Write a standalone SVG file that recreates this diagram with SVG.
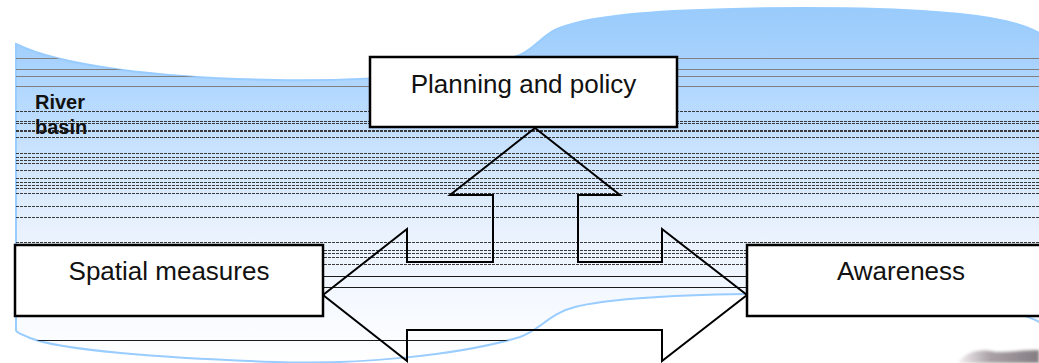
<svg xmlns="http://www.w3.org/2000/svg" width="1039" height="363" viewBox="0 0 1039 363">
  <style>
    .box { fill: #ffffff; stroke: #000000; stroke-width: 2.5; }
    .lbl { font-family: "Liberation Sans", Arial, sans-serif; font-size: 26px; fill: #111111; text-anchor: middle; }
    .basin { font-family: "Liberation Sans", Arial, sans-serif; font-size: 20px; font-weight: bold; fill: #111111; }
    .gl { stroke: #808080; stroke-width: 1; }
    .dl { stroke: #3a3a3a; stroke-width: 1; stroke-dasharray: 3 1; }
    .sl { stroke: #1a1a1a; stroke-width: 1; }
    .arrow { fill: none; stroke: #000000; stroke-width: 2; stroke-linejoin: miter; }
  </style>
  <defs>
    <linearGradient id="basinGrad" x1="0" y1="8" x2="0" y2="362" gradientUnits="userSpaceOnUse">
      <stop offset="0" stop-color="#99cbfb"/>
      <stop offset="0.15" stop-color="#a8d2fd"/>
      <stop offset="0.3" stop-color="#bbdcff"/>
      <stop offset="0.47" stop-color="#d4e7fc"/>
      <stop offset="0.62" stop-color="#e8f1fd"/>
      <stop offset="0.78" stop-color="#f2f7ff"/>
      <stop offset="1" stop-color="#ffffff"/>
    </linearGradient>
    <path id="basinShape" d="M16,44 C60,66 160,78 275,80 C390,82 480,70 520,55 C535,48 540,38 555,30 C580,18 640,12 700,10 C800,6 900,8 960,14 C1000,18 1025,25 1039,33 L1045,40 L1045,325 L1039,322 C1010,305 900,292 747,294 C680,295 610,298 575,307 C550,313 540,330 520,337 C460,355 360,365 275,362 C160,358 60,350 30,338 C20,334 16,332 16,330 Z"/>
    <clipPath id="basinClip">
      <use href="#basinShape"/>
    </clipPath>
    <linearGradient id="photoGrad" x1="0" y1="0" x2="1" y2="0">
      <stop offset="0" stop-color="#f4eef2"/>
      <stop offset="0.4" stop-color="#9a9096"/>
      <stop offset="1" stop-color="#6e666c"/>
    </linearGradient>
    <filter id="soft" x="-20%" y="-50%" width="140%" height="200%">
      <feGaussianBlur stdDeviation="1.5"/>
    </filter>
  </defs>

  <g id="river-basin">
    <use href="#basinShape" fill="url(#basinGrad)" stroke="#99ccff" stroke-width="2"/>
    <g id="basin-lines" clip-path="url(#basinClip)">
      <line class="gl" x1="16" y1="58.5" x2="1039" y2="58.5"/>
      <line class="gl" x1="16" y1="69.5" x2="1039" y2="69.5"/>
      <line class="gl" x1="16" y1="76.5" x2="1039" y2="76.5"/>
      <line class="gl" x1="16" y1="86.5" x2="1039" y2="86.5"/>
      <line class="dl" x1="16" y1="111.5" x2="1039" y2="111.5"/>
      <line class="dl" x1="16" y1="121.5" x2="1039" y2="121.5"/>
      <line class="dl" x1="16" y1="123.5" x2="1039" y2="123.5"/>
      <line class="dl" x1="16" y1="130.5" x2="1039" y2="130.5"/>
      <line class="dl" x1="16" y1="131.5" x2="1039" y2="131.5"/>
      <line class="dl" x1="16" y1="137.5" x2="1039" y2="137.5"/>
      <line class="dl" x1="16" y1="153.5" x2="1039" y2="153.5"/>
      <line class="dl" x1="16" y1="157.5" x2="1039" y2="157.5"/>
      <line class="dl" x1="16" y1="160.5" x2="1039" y2="160.5"/>
      <line class="dl" x1="16" y1="163.5" x2="1039" y2="163.5"/>
      <line class="dl" x1="16" y1="170.5" x2="1039" y2="170.5"/>
      <line class="dl" x1="16" y1="178.5" x2="1039" y2="178.5"/>
      <line class="dl" x1="16" y1="182.5" x2="1039" y2="182.5"/>
      <line class="dl" x1="16" y1="185.5" x2="1039" y2="185.5"/>
      <line class="dl" x1="16" y1="188.5" x2="1039" y2="188.5"/>
      <line class="dl" x1="16" y1="193.5" x2="1039" y2="193.5"/>
      <line class="dl" x1="16" y1="206.5" x2="1039" y2="206.5"/>
      <line class="dl" x1="16" y1="217.5" x2="1039" y2="217.5"/>
      <line class="dl" x1="16" y1="242.5" x2="1039" y2="242.5"/>
      <line class="dl" x1="16" y1="250.5" x2="1039" y2="250.5"/>
      <line class="dl" x1="16" y1="253.5" x2="1039" y2="253.5"/>
      <line class="dl" x1="16" y1="257.5" x2="1039" y2="257.5"/>
      <line class="dl" x1="16" y1="264.5" x2="1039" y2="264.5"/>
      <line class="sl" x1="16" y1="276.5" x2="1039" y2="276.5"/>
      <line class="sl" x1="16" y1="287.5" x2="1039" y2="287.5"/>
      <line class="sl" x1="16" y1="340.5" x2="1039" y2="340.5"/>
    </g>
    <text class="basin" x="35" y="109">River</text>
    <text class="basin" x="35" y="134">basin</text>
  </g>

  <g id="connectors">
    <polygon class="arrow" points="535,128 620,195 578,195 578,262 662,262 662,229 747,295 662,361 662,330 407,330 407,361 323,295 407,229 407,262 493,262 493,195 450,195"/>
  </g>

  <g id="node-planning">
    <rect class="box" x="370" y="57" width="307" height="70"/>
    <text class="lbl" x="523.5" y="93">Planning and policy</text>
  </g>

  <g id="node-spatial">
    <rect class="box" x="15" y="245" width="308" height="71"/>
    <text class="lbl" x="169" y="280">Spatial measures</text>
  </g>

  <g id="node-awareness">
    <rect class="box" x="747" y="245" width="320" height="71"/>
    <text class="lbl" x="901" y="280">Awareness</text>
  </g>

  <g id="photo-fragment" filter="url(#soft)">
    <path d="M958,363 C965,352 980,348 995,352 C1010,352 1025,350 1039,350 L1039,363 Z" fill="url(#photoGrad)" opacity="0.85"/>
  </g>
</svg>
